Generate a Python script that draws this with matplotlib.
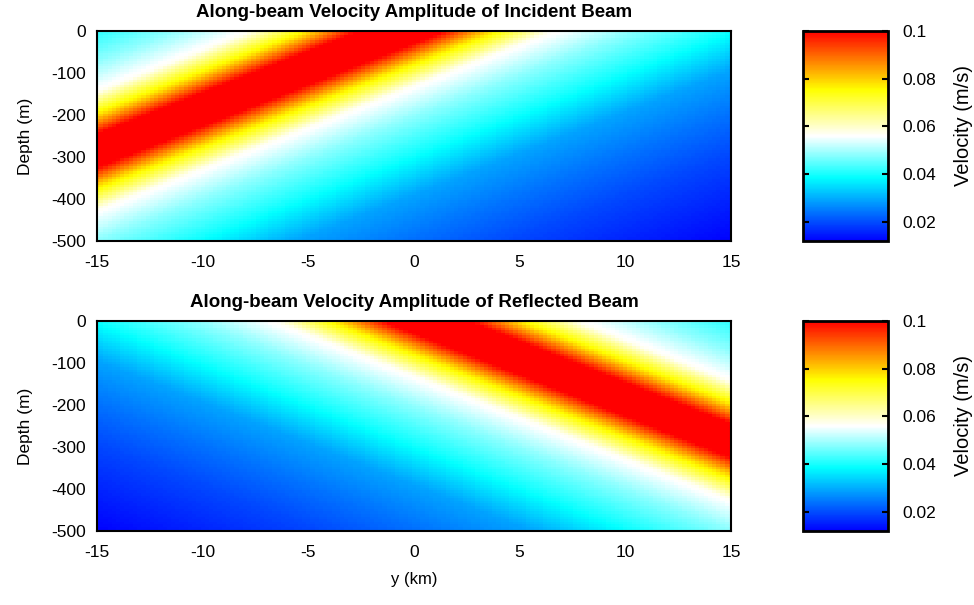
import numpy as np
import matplotlib
matplotlib.use("Agg")
import matplotlib.pyplot as plt
from matplotlib.colors import LinearSegmentedColormap

plt.rcParams['font.family'] = ['Liberation Sans', 'DejaVu Sans']
plt.rcParams['axes.unicode_minus'] = False

# Grid (km across-slope, m depth)
y_km = np.linspace(-15, 15, 151)
depth_m = np.linspace(0, -500, 81)

# Beam centre line: depth of the beam axis at the two side walls
incident_axis_depth = [-285.0, 306.0]    # at y = -15 km and y = +15 km
reflected_axis_depth = [306.0, -285.0]

# Amplitude profile against vertical distance from the beam axis
profile_dist_m = [0, 25, 40, 60, 85, 140, 215, 300, 400, 500, 600, 810, 1000]
profile_amp = [0.115, 0.108, 0.100, 0.090, 0.078, 0.057, 0.048, 0.040, 0.029, 0.024, 0.0195, 0.012, 0.008]

# Colour scale
clim = (0.012, 0.1)
cbar_ticks = [0.02, 0.04, 0.06, 0.08, 0.1]
cmap_nodes = [0.0, 0.3, 0.5, 0.72, 1.0]
cmap_colors = [(0, 0, 1), (0, 1, 1), (1, 1, 1), (1, 1, 0), (1, 0, 0)]
cmap = LinearSegmentedColormap.from_list("beam", list(zip(cmap_nodes, cmap_colors)), N=256)

titles = ["Along-beam Velocity Amplitude of Incident Beam",
          "Along-beam Velocity Amplitude of Reflected Beam"]
x_ticks = [-15, -10, -5, 0, 5, 10, 15]
y_ticks = [0, -100, -200, -300, -400, -500]


def beam_field(axis_depth):
    Y, Z = np.meshgrid(y_km, depth_m)
    zc = np.interp(Y, [-15, 15], axis_depth)
    d = np.abs(Z - zc)
    return np.interp(d, profile_dist_m, profile_amp)


fig = plt.figure(figsize=(9.74, 6.05), dpi=100)
W, H = 974.0, 605.0

panels = [(31, 241), (321, 531)]
fields = [beam_field(incident_axis_depth), beam_field(reflected_axis_depth)]

for i, ((top, bot), field) in enumerate(zip(panels, fields)):
    ax = fig.add_axes([97 / W, 1 - bot / H, 634 / W, (bot - top) / H])
    mesh = ax.pcolormesh(y_km, depth_m, field, cmap=cmap, vmin=clim[0], vmax=clim[1],
                         shading='nearest', rasterized=True)
    ax.set_xlim(-15, 15)
    ax.set_ylim(-500, 0)
    ax.set_xticks(x_ticks)
    ax.set_yticks(y_ticks)
    ax.tick_params(length=0, labelsize=12.5, pad=8)
    ax.tick_params(axis='x', pad=10)
    for s in ax.spines.values():
        s.set_linewidth(1.5)
    ax.set_title(titles[i], fontsize=13.5, fontweight='bold', pad=10)
    ax.set_ylabel("Depth (m)", fontsize=12.5, labelpad=13)
    if i == 1:
        ax.set_xlabel("y (km)", fontsize=12, labelpad=9)

    cax = fig.add_axes([803 / W, 1 - bot / H, 85 / W, (bot - top) / H])
    cb = fig.colorbar(mesh, cax=cax)
    cb.set_ticks(cbar_ticks)
    cb.set_ticklabels(["0.02", "0.04", "0.06", "0.08", "0.1"])
    cax.tick_params(direction='in', length=4, width=1.5, labelsize=12.5, pad=10,
                    left=True, right=True)
    cb.outline.set_linewidth(2)
    cb.set_label("Velocity (m/s)", fontsize=14.5)
    cax.yaxis.set_label_coords(1.78, 0.55)

fig.savefig("out.png", dpi=100)
